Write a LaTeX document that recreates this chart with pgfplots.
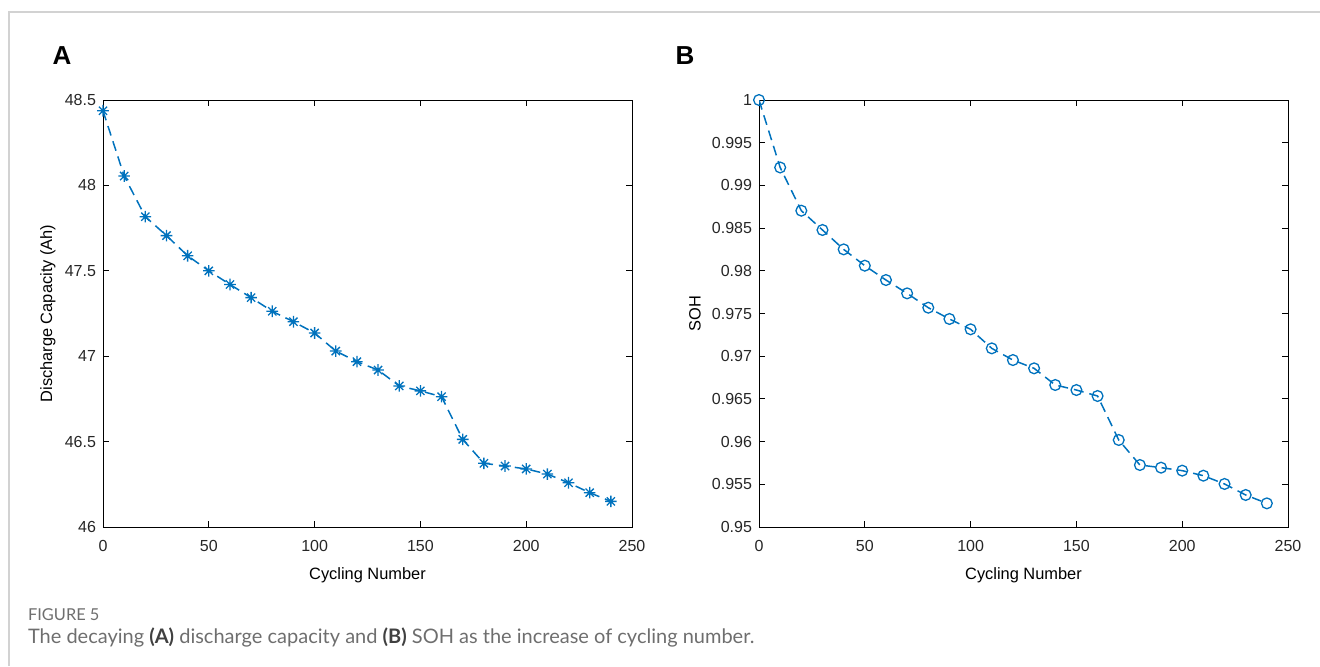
\documentclass[border=0pt]{standalone}
\usepackage{fontspec}
\setmainfont{Liberation Sans}
\newfontfamily\capfont{Lato}
\usepackage{pgfplots}
\pgfplotsset{compat=1.18}
\definecolor{mblue}{RGB}{0,114,189}
\definecolor{ticktxt}{RGB}{38,38,38}
\definecolor{capgray}{RGB}{110,110,110}
\definecolor{framegray}{RGB}{210,210,210}
\pgfdeclareplotmark{mstar}{%
  \pgfpathmoveto{\pgfqpoint{-\pgfplotmarksize}{0pt}}\pgfpathlineto{\pgfqpoint{\pgfplotmarksize}{0pt}}%
  \pgfpathmoveto{\pgfqpoint{0pt}{-\pgfplotmarksize}}\pgfpathlineto{\pgfqpoint{0pt}{\pgfplotmarksize}}%
  \pgfpathmoveto{\pgfqpoint{-0.707\pgfplotmarksize}{-0.707\pgfplotmarksize}}\pgfpathlineto{\pgfqpoint{0.707\pgfplotmarksize}{0.707\pgfplotmarksize}}%
  \pgfpathmoveto{\pgfqpoint{-0.707\pgfplotmarksize}{0.707\pgfplotmarksize}}\pgfpathlineto{\pgfqpoint{0.707\pgfplotmarksize}{-0.707\pgfplotmarksize}}%
  \pgfusepathqstroke}
\pgfplotstableread{
x y
0 48.437
10 48.055
20 47.817
30 47.706
40 47.588
50 47.500
60 47.420
70 47.343
80 47.263
90 47.202
100 47.136
110 47.030
120 46.968
130 46.919
140 46.826
150 46.797
160 46.763
170 46.513
180 46.373
190 46.357
200 46.340
210 46.310
220 46.259
230 46.201
240 46.150
}\capdata
\pgfplotstableread{
x y
0 1.0000
10 0.9921
20 0.98704
30 0.98478
40 0.98251
50 0.98060
60 0.97892
70 0.97736
80 0.97568
90 0.97436
100 0.97315
110 0.97092
120 0.96955
130 0.96858
140 0.96663
150 0.96604
160 0.96534
170 0.96019
180 0.95726
190 0.95695
200 0.95660
210 0.95601
220 0.95504
230 0.95375
240 0.95277
}\sohdata
\pgfplotsset{
  panel/.style={
    scale only axis,
    width=264.5pt, height=213.5pt,
    anchor=south west,
    xmin=0, xmax=250,
    xtick={0,50,100,150,200,250},
    xticklabels={0,50,100,150,200,250},
    tick align=inside,
    xtick pos=both, ytick pos=both,
    major tick length=2.8pt,
    axis line style={line width=0.5pt, black},
    every tick/.style={black, line width=0.5pt},
    tick label style={font=\fontsize{8}{9}\selectfont, text=ticktxt},
    xticklabel style={yshift=-3pt},
    label style={font=\fontsize{8.2}{9}\selectfont, text=black},
    xlabel={Cycling Number},
    xlabel style={at={(axis description cs:0.5,-0.113)}, anchor=center},
  },
  curve/.style={mblue, line width=0.75pt, dash pattern=on 5pt off 3pt, mark options={solid, line width=0.65pt}},
}
\begin{document}
\begin{tikzpicture}
\path[use as bounding box] (0pt,0pt) rectangle (660pt,333pt);
\draw[framegray, line width=0.6pt] (4.5pt,0pt) -- (4.5pt,327pt) -- (660pt,327pt);
\node[font=\fontsize{13}{14}\selectfont\bfseries] at (31pt,305pt) {A};
\node[font=\fontsize{13}{14}\selectfont\bfseries] at (342.5pt,305pt) {B};
\begin{axis}[panel, at={(51.5pt,69.5pt)},
  ymin=46, ymax=48.5,
  ytick={46,46.5,47,47.5,48,48.5},
  yticklabels={46,46.5,47,47.5,48,48.5},
  ylabel={Discharge Capacity (Ah)},
  ylabel style={at={(axis description cs:-0.104,0.5)}, anchor=center},
]
\addplot[curve, mark=mstar, mark size=2.9pt] table[x=x,y=y] {\capdata};
\end{axis}
\begin{axis}[panel, at={(379.5pt,69.5pt)},
  ymin=0.95, ymax=1,
  ytick={0.95,0.955,0.96,0.965,0.97,0.975,0.98,0.985,0.99,0.995,1},
  yticklabels={0.95,0.955,0.96,0.965,0.97,0.975,0.98,0.985,0.99,0.995,1},
  ylabel={SOH},
  ylabel style={at={(axis description cs:-0.121,0.5)}, anchor=center},
]
\addplot[curve, mark=o, mark size=2.7pt] table[x=x,y=y] {\sohdata};
\end{axis}
\node[anchor=west, font=\capfont\fontsize{8.2}{9}\selectfont, text=capgray] at (10.5pt,25.5pt) {FIGURE 5};
\node[anchor=west, font=\capfont\fontsize{10}{11}\selectfont, text=capgray] at (10.5pt,14.5pt) {The decaying {\color{black!75}\bfseries (A)} discharge capacity and {\color{black!75}\bfseries (B)} SOH as the increase of cycling number.};
\end{tikzpicture}
\end{document}
